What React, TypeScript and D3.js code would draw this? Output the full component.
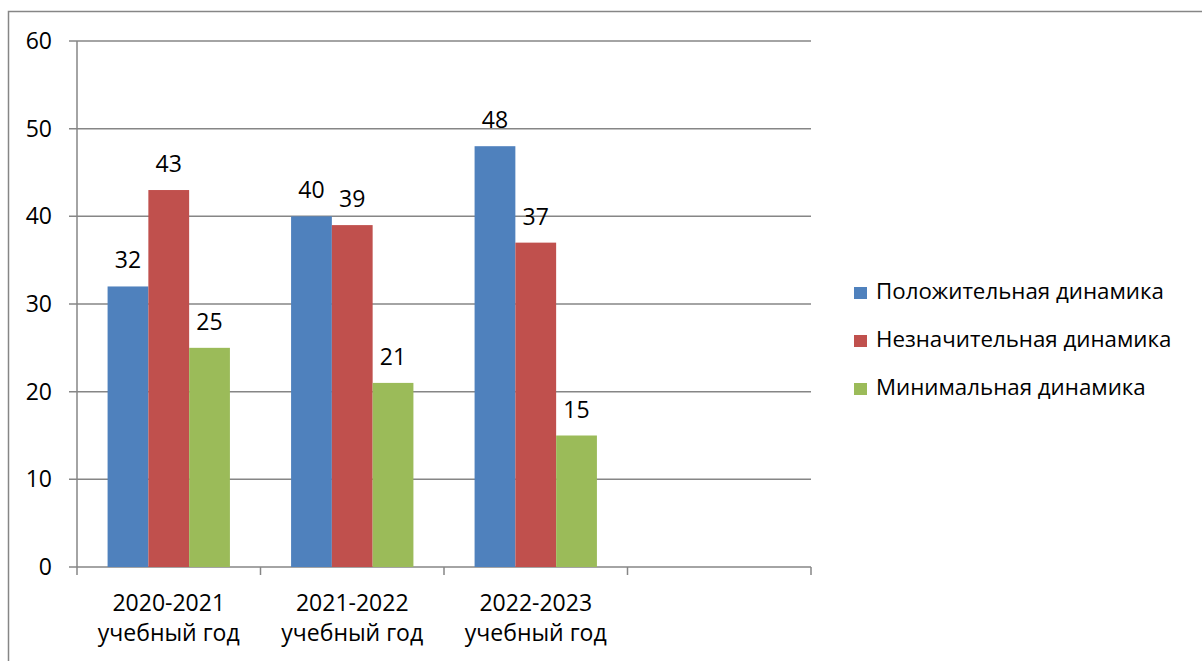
import React from "react";
import * as d3 from "d3";

const categories = ["2020-2021|учебный год", "2021-2022|учебный год", "2022-2023|учебный год", ""];
const seriesNames = ["Положительная динамика", "Незначительная динамика", "Минимальная динамика"];
const seriesColors = ["#4F81BD", "#C0504D", "#9BBB59"];
const positive = [32, 40, 48];
const minor = [43, 39, 37];
const minimal = [25, 21, 15];
const yTicks = [0, 10, 20, 30, 40, 50, 60];

const W = 1202, H = 661;
const FONT = "Open Sans, Noto Sans, sans-serif";
const FS = 23;
const LFS = 22.3;

export default function App() {
  const seriesVals = [positive, minor, minimal];
  const x = d3.scaleBand<string>().domain(categories).range([77, 811]).paddingInner(0).paddingOuter(0);
  const y = d3.scaleLinear().domain([0, 60]).range([567, 41]);
  const bw = x.bandwidth();
  const barW = bw / 4.5;
  const offset0 = barW * 0.75;
  const grid = "#868686";
  return (
    <svg width={W} height={H} style={{ position: "absolute", left: 0, top: 0, background: "#fff" }} fontFamily={FONT}>
      <rect x={0} y={0} width={W} height={H} fill="#fff" />
      <path d={`M8.5,${H} V11.5 H${W}`} fill="none" stroke={grid} strokeWidth={1.5} />
      {yTicks.map((t) => (
        <g key={t}>
          <line x1={69} x2={811} y1={y(t)} y2={y(t)} stroke={grid} strokeWidth={1.5} />
          <text x={52} y={y(t) + 8} textAnchor="end" fontSize={FS} fill="#000">{t}</text>
        </g>
      ))}
      <line x1={77} x2={77} y1={41} y2={575} stroke={grid} strokeWidth={1.5} />
      {categories.map((c, i) => (
        <line key={"t" + i} x1={(x(c) ?? 0) + bw} x2={(x(c) ?? 0) + bw} y1={567} y2={575} stroke={grid} strokeWidth={1.5} />
      ))}
      {categories.slice(0, 3).map((c, ci) => {
        const x0 = x(c) ?? 0;
        return (
          <g key={c}>
            {seriesVals.map((vals, si) => {
              const bx = x0 + offset0 + si * barW;
              const v = vals[ci];
              return (
                <g key={si}>
                  <rect x={bx} y={y(v)} width={barW} height={y(0) - y(v)} fill={seriesColors[si]} />
                  <text x={bx + barW / 2} y={y(v) - 18} textAnchor="middle" fontSize={FS} fill="#000">{v}</text>
                </g>
              );
            })}
            {c.split("|").map((line, li) => (
              <text key={li} x={x0 + bw / 2} y={611 + li * 30} textAnchor="middle" fontSize={FS} fill="#000">{line}</text>
            ))}
          </g>
        );
      })}
      {seriesNames.map((n, i) => (
        <g key={n}>
          <rect x={854} y={287 + i * 48} width={13} height={12} fill={seriesColors[i]} />
          <text x={876} y={299 + i * 48} fontSize={LFS} fill="#000">{n}</text>
        </g>
      ))}
    </svg>
  );
}
